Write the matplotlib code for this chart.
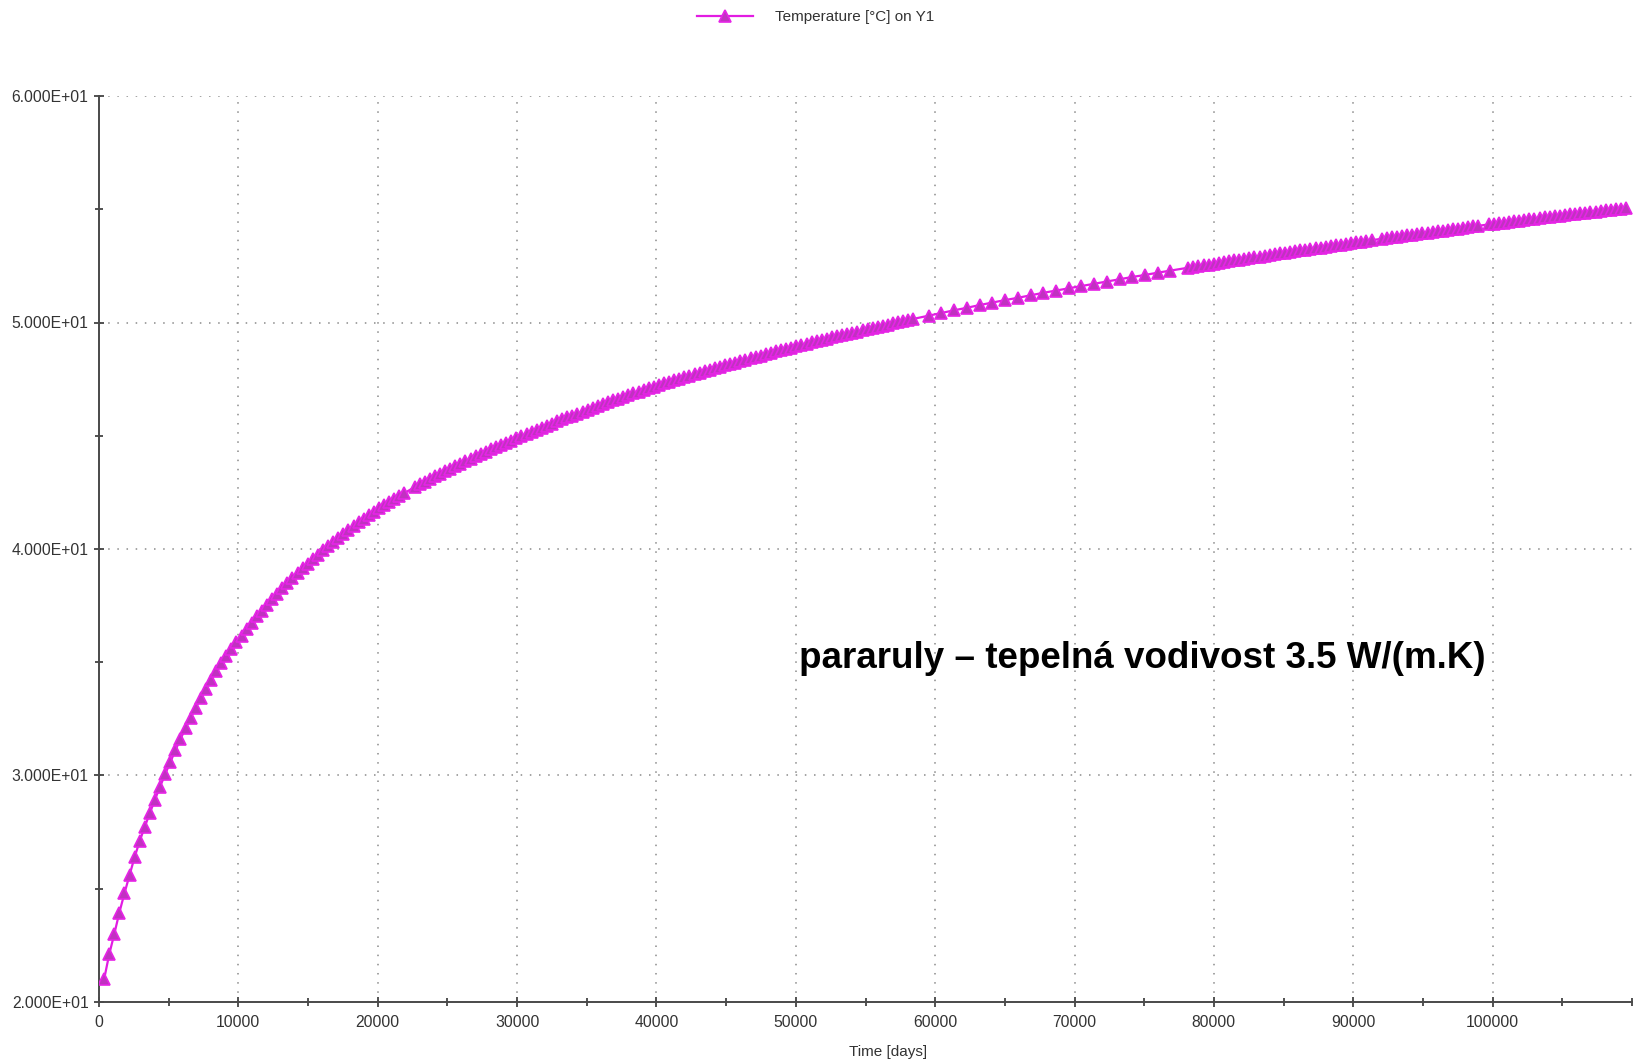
import numpy as np
import matplotlib
matplotlib.use("Agg")
import matplotlib.pyplot as plt
from matplotlib.ticker import MultipleLocator, FixedLocator

# Vysledky simulace: teplota v case (vystup po rocich, ve stredni casti po 2.5 letech)
ROKY_1 = [r for r in range(1, 161) if r != 61]
ROKY_2 = [163 + 2.5 * k for k in range(20)]
ROKY_3 = [r for r in range(214, 301) if r not in (251, 272)]

TEPLOTA_1 = [
    21.00, 22.10, 23.00, 23.95, 24.80, 25.60, 26.40, 27.11, 27.74, 28.35, 28.94, 29.51, 30.06, 30.59, 31.11, 31.61, 32.09, 32.55, 33.00, 33.43,
    33.84, 34.23, 34.60, 34.95, 35.28, 35.59, 35.89, 36.18, 36.47, 36.75, 37.02, 37.28, 37.54, 37.78, 38.03, 38.26, 38.49, 38.71, 38.93, 39.14,
    39.35, 39.55, 39.75, 39.94, 40.12, 40.31, 40.49, 40.66, 40.84, 41.00, 41.17, 41.33, 41.49, 41.64, 41.79, 41.93, 42.07, 42.21, 42.34, 42.47,
    42.73, 42.85, 42.97, 43.09, 43.21, 43.33, 43.44, 43.55, 43.66, 43.77, 43.88, 43.98, 44.09, 44.19, 44.29, 44.40, 44.50, 44.59, 44.69, 44.79,
    44.89, 44.98, 45.08, 45.17, 45.26, 45.36, 45.45, 45.54, 45.63, 45.72, 45.81, 45.89, 45.98, 46.06, 46.15, 46.23, 46.31, 46.39, 46.48, 46.56,
    46.63, 46.71, 46.79, 46.87, 46.94, 47.02, 47.09, 47.16, 47.23, 47.31, 47.38, 47.45, 47.52, 47.58, 47.65, 47.72, 47.78, 47.85, 47.92, 47.98,
    48.04, 48.11, 48.17, 48.23, 48.29, 48.36, 48.42, 48.48, 48.54, 48.60, 48.66, 48.72, 48.77, 48.83, 48.89, 48.95, 49.00, 49.06, 49.12, 49.17,
    49.23, 49.28, 49.34, 49.39, 49.44, 49.50, 49.55, 49.60, 49.65, 49.71, 49.76, 49.81, 49.86, 49.91, 49.96, 50.01, 50.06, 50.11, 50.16,
]
TEPLOTA_2 = [
    50.30, 50.42, 50.54, 50.65, 50.77, 50.88, 50.99, 51.09, 51.20, 51.31, 51.41, 51.51, 51.61, 51.71, 51.81, 51.91, 52.01, 52.10, 52.20, 52.29,
]
TEPLOTA_3 = [
    52.42, 52.46, 52.49, 52.53, 52.56, 52.60, 52.63, 52.67, 52.71, 52.74, 52.78, 52.81, 52.84, 52.88, 52.91, 52.95, 52.98, 53.02, 53.05, 53.08,
    53.12, 53.15, 53.18, 53.22, 53.25, 53.28, 53.31, 53.35, 53.38, 53.41, 53.44, 53.48, 53.51, 53.54, 53.57, 53.60, 53.63, 53.70, 53.73, 53.76,
    53.79, 53.82, 53.85, 53.88, 53.91, 53.94, 53.97, 54.00, 54.03, 54.06, 54.09, 54.12, 54.15, 54.18, 54.21, 54.24, 54.27, 54.33, 54.36, 54.38,
    54.41, 54.44, 54.47, 54.50, 54.52, 54.55, 54.58, 54.61, 54.64, 54.66, 54.69, 54.72, 54.74, 54.77, 54.80, 54.82, 54.85, 54.88, 54.90, 54.93,
    54.96, 54.98, 55.01, 55.03, 55.06,
]

DNY_V_ROCE = 365.25
cas = np.array(ROKY_1 + ROKY_2 + ROKY_3) * DNY_V_ROCE
teplota = np.array(TEPLOTA_1 + TEPLOTA_2 + TEPLOTA_3)

Y_TICKY = [20, 30, 40, 50, 60]
X_TICKY = [0, 10000, 20000, 30000, 40000, 50000, 60000, 70000, 80000, 90000, 100000]

plt.rcParams['font.family'] = ['Liberation Sans', 'DejaVu Sans']

W, H = 1634, 1061
fig = plt.figure(figsize=(W / 100, H / 100), dpi=100)
ax = fig.add_axes([99 / W, (H - 1002) / H, (1632 - 99) / W, (1002 - 96) / H])

car, = ax.plot(cas, teplota, color='#e21ce2', linewidth=1.6, marker='^', markersize=8,
               markerfacecolor='#c032c0', markeredgecolor='#e624e6', markeredgewidth=1.2, zorder=3)

ax.set_xlim(0, 110000)
ax.set_ylim(20, 60)

ax.xaxis.set_major_locator(FixedLocator(X_TICKY))
ax.xaxis.set_minor_locator(MultipleLocator(5000))
ax.yaxis.set_major_locator(FixedLocator(Y_TICKY))
ax.yaxis.set_minor_locator(MultipleLocator(5))
ax.set_xticklabels([str(v) for v in X_TICKY])
ax.set_yticklabels([f"{v:.3E}" for v in Y_TICKY])

for s in ('top', 'right'):
    ax.spines[s].set_visible(False)
for s in ('left', 'bottom'):
    ax.spines[s].set_color('#4a4a4a')
    ax.spines[s].set_linewidth(1.4)

ax.tick_params(which='both', direction='inout', color='#333333', width=1.2, labelcolor='#333333')
ax.tick_params(which='major', length=7, labelsize=11.3)
ax.tick_params(which='minor', length=6)
ax.tick_params(axis='x', which='major', pad=6)
ax.tick_params(axis='y', which='major', pad=4)

# mrizka jen v hlavnich tickach (bez osy samotne)
for x in X_TICKY[1:]:
    ax.axvline(x, color='#8a8a8a', linewidth=1.1, linestyle=(0, (1, 5)), zorder=1)
for y in Y_TICKY[1:]:
    ax.axhline(y, color='#8a8a8a', linewidth=1.1, linestyle=(0, (1, 5)), zorder=1)

fig.text(888 / W, 1 - 1052 / H, 'Time [days]', ha='center', va='center', fontsize=11, color='#333333')

# legenda nahore
fig.legend(handles=[car], labels=['Temperature [°C] on Y1'], loc='center left',
           bbox_to_anchor=(683 / W, 1 - 17 / H), frameon=False, fontsize=11,
           handlelength=3.7, handletextpad=1.45, labelcolor='#333333')

ax.text(0.4566, 0.379, 'pararuly – tepelná vodivost 3.5 W/(m.K)', transform=ax.transAxes,
        fontsize=26.5, fontweight='bold', color='black', ha='left', va='center')

fig.savefig('out.png', dpi=100)
